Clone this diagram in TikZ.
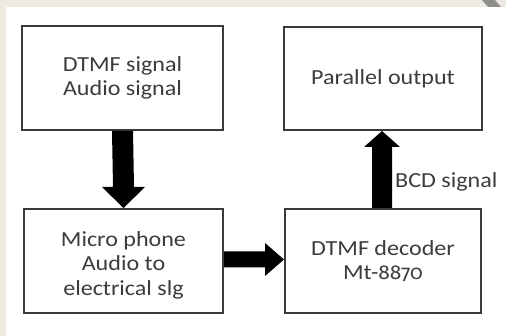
\documentclass[tikz,border=0pt]{standalone}
\usepackage{fontspec}
\setmainfont{Carlito}[FakeStretch=1.12]
\newfontfamily\osf{Fira Sans}[Numbers=OldStyle,FakeStretch=1.05]
\usetikzlibrary{calc}
\definecolor{beige}{HTML}{EDEBE1}
\definecolor{boxline}{HTML}{3A3A3A}
\definecolor{txt}{HTML}{3C3C3C}
\definecolor{deco}{HTML}{8E8E8A}
\begin{document}
\begin{tikzpicture}[x=1pt,y=-1pt,
  blk/.style={draw=boxline,line width=2pt,fill=white,align=center,text=txt,
    inner sep=0pt,font=\fontsize{21.5}{24.5}\selectfont},
  lbl/.style={text=txt,inner sep=0pt,font=\fontsize{21.5}{24.5}\selectfont}]
\useasboundingbox (0,0) rectangle (506,336);
\fill[beige] (0,0) rectangle (506,336);
\fill[white] (6,7) rectangle (506,336);
\fill[deco] (482,0) -- (495,0) -- (501,7) -- (488,7) -- cycle;
\node[blk,minimum width=201pt,minimum height=104pt] (b1) at (122.5,78) {DTMF signal\\Audio signal};
\node[blk,minimum width=198pt,minimum height=103pt] (b2) at (383,78.5) {Parallel output};
\node[blk,minimum width=199pt,minimum height=104pt] (b3) at (123.5,261) {};
\node[lbl,align=center] (t3) at (123.5,265) {Micro phone\\Audio to\\electrical slg};
\node[blk,minimum width=196pt,minimum height=104pt] (b4) at (383,261) {DTMF decoder\\Mt-{\osf\fontsize{20}{24.5}\selectfont 8870}};
% down arrow b1 -> b3
\fill[black] ($(b1.south)+(-10.5,0)$) -- ($(b3.north)+(-10.5,-21)$) -- ($(b3.north)+(-21.5,-21)$)
  -- (b3.north) -- ($(b3.north)+(21.5,-21)$) -- ($(b3.north)+(10.5,-21)$) -- ($(b1.south)+(10.5,0)$) -- cycle;
% right arrow b3 -> b4
\fill[black] ($(b3.east)+(0,-1.5-8)$) -- ($(b4.west)+(-19,-1.5-8)$) -- ($(b4.west)+(-19,-1.5-16.5)$)
  -- ($(b4.west)+(0,-1.5)$) -- ($(b4.west)+(-19,-1.5+16.5)$) -- ($(b4.west)+(-19,-1.5+8)$) -- ($(b3.east)+(0,-1.5+8)$) -- cycle;
% up arrow b4 -> b2
\fill[black] ($(b4.north)+(-11,0)$) -- ($(b2.south)+(-11,16)$) -- ($(b2.south)+(-19,16)$)
  -- ($(b2.south)+(-1,0)$) -- ($(b2.south)+(17,16)$) -- ($(b2.south)+(9,16)$) -- ($(b4.north)+(9,0)$) -- cycle;
\node[lbl,anchor=base west] (bcd) at (395,188) {BCD signal};
\end{tikzpicture}
\end{document}
